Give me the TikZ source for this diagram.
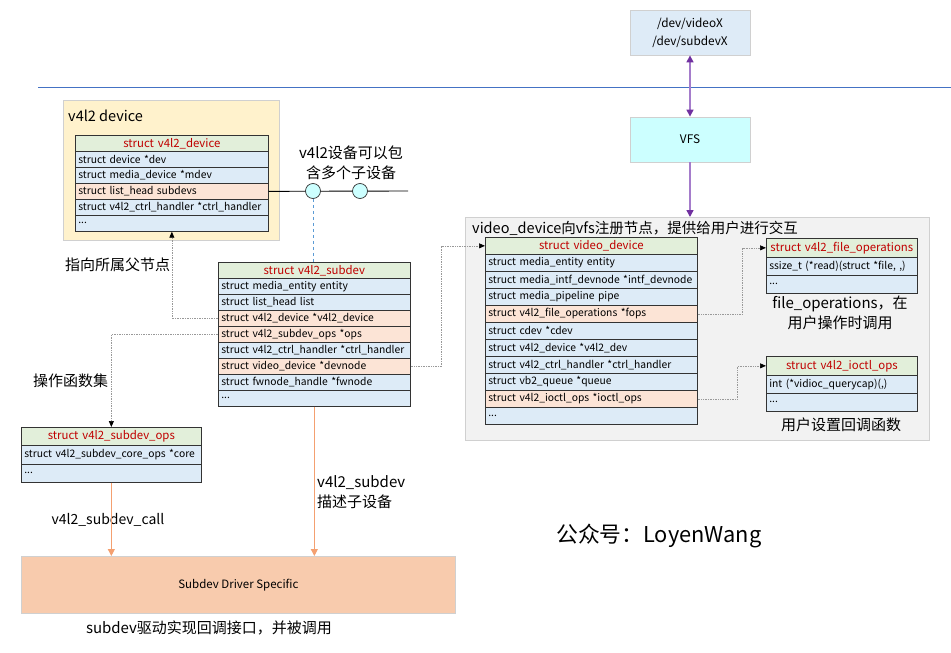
\documentclass[tikz,border=0pt]{standalone}
\usepackage{fontspec}
\setmainfont{Noto Sans CJK SC}
\usetikzlibrary{arrows.meta}
\definecolor{hdrc}{HTML}{E2EFDA}
\definecolor{rowbc}{HTML}{DDEBF7}
\definecolor{rowoc}{HTML}{FCE4D6}
\definecolor{redtc}{HTML}{C00000}
\definecolor{grpy}{HTML}{FFF2CC}
\definecolor{grpg}{HTML}{F2F2F2}
\definecolor{boxb}{HTML}{DEEBF7}
\definecolor{boxc}{HTML}{CCFFFF}
\definecolor{drvc}{HTML}{F8CBAD}
\definecolor{lineblue}{HTML}{4472C4}
\definecolor{dashblue}{HTML}{5B9BD5}
\definecolor{orangel}{HTML}{F4A070}
\definecolor{purl}{HTML}{A57CCB}
\definecolor{purd}{HTML}{7030A0}
\definecolor{softb}{HTML}{D0D0D0}
\newcommand\tabrow[7]{%
  \pgfmathsetmacro\rbtw{#4-6}%
  \node[#6, minimum width=#4pt, minimum height=#5pt, text width=\rbtw pt, anchor=north west] (#1) at (#2,#3) {#7};%
}
\begin{document}
\begin{tikzpicture}[x=1pt,y=-1pt,
  cellst/.style={draw=black!80, line width=0.7pt, inner xsep=3pt, inner ysep=0pt, font=\fontsize{10.3}{12}\selectfont},
  hdrst/.style={cellst, fill=hdrc, text=redtc, align=center, font=\fontsize{11.4}{13}\selectfont},
  bst/.style={cellst, fill=rowbc, align=left},
  ost/.style={cellst, fill=rowoc, align=left},
  grpst/.style={draw=softb, line width=0.8pt, anchor=north west, inner sep=0pt},
  plainbox/.style={draw=softb, line width=0.8pt, inner sep=0pt, align=center, font=\fontsize{11.8}{18}\selectfont},
  cnlabel/.style={inner sep=0pt, font=\fontsize{15}{20}\selectfont},
  grptitle/.style={inner sep=0pt, anchor=west, font=\fontsize{14.5}{18}\selectfont},
  dotarrow/.style={draw=black!40, densely dotted, line width=0.7pt, -{Triangle[length=6pt,width=5pt,color=black]}},
  orarrow/.style={draw=orangel, line width=1pt, -{Triangle[length=7pt,width=7pt]}},
  purarrow/.style={draw=purl, line width=1.5pt, {Triangle[length=7pt,width=7pt,color=purd]}-{Triangle[length=7pt,width=7pt,color=purd]}},
  purarrowone/.style={draw=purl, line width=1.5pt, -{Triangle[length=7pt,width=7pt,color=purd]}},
  knot/.style={circle, draw=black!80, fill=boxc, line width=0.7pt, minimum size=15pt, inner sep=0pt}
]
\useasboundingbox[fill=white] (0,0) rectangle (951,653);

% top line
\coordinate (hlA) at (38,87.5);
\coordinate (hlB) at (951,87.5);
\draw[lineblue, line width=1.1pt] (hlA) -- (hlB);

% /dev and VFS
\node[plainbox, fill=boxb, minimum width=120pt, minimum height=45pt] (devx) at (690,32.5) {/dev/videoX\\/dev/subdevX};
\node[plainbox, fill=boxc, minimum width=120pt, minimum height=45pt] (vfs) at (690,139.5) {VFS};

% groups
\node[grpst, fill=grpy, minimum width=216pt, minimum height=140pt] (gdev) at (63,100) {};
\node[grptitle] (gdevt) at (68,116) {v4l2 device};
\node[grpst, fill=grpg, minimum width=464pt, minimum height=223pt] (gvid) at (465,217) {};
\node[grptitle] (gvidt) at (472,228) {video\_device向vfs注册节点，提供给用户进行交互};

% struct v4l2_device
\tabrow{dh}{75}{135}{193}{16}{hdrst}{struct v4l2\_device}
\tabrow{d1}{75}{151}{193}{16}{bst}{struct device *dev}
\tabrow{d2}{75}{167}{193}{16}{bst}{struct media\_device *mdev}
\tabrow{d3}{75}{183}{193}{16}{ost}{struct list\_head subdevs}
\tabrow{d4}{75}{199}{193}{16}{bst}{struct v4l2\_ctrl\_handler *ctrl\_handler}
\tabrow{d5}{75}{215}{193}{16}{bst}{...}

% subdevs list line with knots
\coordinate (lend) at (408,191);
\draw[black, line width=0.9pt] (d3.east) -- (lend);
\node[knot] (k1) at (313,191) {};
\node[knot] (k2) at (360,191) {};
\node[cnlabel, align=center] (klab) at (351,163) {v4l2设备可以包\\含多个子设备};

% struct v4l2_subdev
\tabrow{sdh}{218}{262}{192}{16}{hdrst}{struct v4l2\_subdev}
\tabrow{sd1}{218}{278}{192}{16}{bst}{struct media\_entity entity}
\tabrow{sd2}{218}{294}{192}{16}{bst}{struct list\_head list}
\tabrow{sd3}{218}{310}{192}{16}{ost}{struct v4l2\_device *v4l2\_device}
\tabrow{sd4}{218}{326}{192}{16}{ost}{struct v4l2\_subdev\_ops *ops}
\tabrow{sd5}{218}{342}{192}{16}{bst}{struct v4l2\_ctrl\_handler *ctrl\_handler}
\tabrow{sd6}{218}{358}{192}{16}{ost}{struct video\_device *devnode}
\tabrow{sd7}{218}{374}{192}{16}{bst}{struct fwnode\_handle *fwnode}
\tabrow{sd8}{218}{390}{192}{16}{bst}{...}

\draw[dashblue, dashed, line width=0.8pt] (k1.south) -- (k1.south |- sdh.north);

% struct v4l2_subdev_ops
\tabrow{soh}{21}{427}{180}{18}{hdrst}{struct v4l2\_subdev\_ops}
\tabrow{so1}{21}{445}{180}{19}{bst}{struct v4l2\_subdev\_core\_ops *core}
\tabrow{so2}{21}{464}{180}{18}{bst}{...}

% struct video_device
\tabrow{vdh}{485}{237}{212}{17}{hdrst}{struct video\_device}
\tabrow{vd1}{485}{254}{212}{17}{bst}{struct media\_entity entity}
\tabrow{vd2}{485}{271}{212}{17}{bst}{struct media\_intf\_devnode *intf\_devnode}
\tabrow{vd3}{485}{288}{212}{17}{bst}{struct media\_pipeline pipe}
\tabrow{vd4}{485}{305}{212}{17}{ost}{struct v4l2\_file\_operations *fops}
\tabrow{vd5}{485}{322}{212}{17}{bst}{struct cdev *cdev}
\tabrow{vd6}{485}{339}{212}{17}{bst}{struct v4l2\_device *v4l2\_dev}
\tabrow{vd7}{485}{356}{212}{17}{bst}{struct v4l2\_ctrl\_handler *ctrl\_handler}
\tabrow{vd8}{485}{373}{212}{17}{bst}{struct vb2\_queue *queue}
\tabrow{vd9}{485}{390}{212}{17}{ost}{struct v4l2\_ioctl\_ops *ioctl\_ops}
\tabrow{vd10}{485}{407}{212}{17}{bst}{...}

% file operations
\tabrow{foh}{766}{238}{151}{19}{hdrst}{struct v4l2\_file\_operations}
\tabrow{fo1}{766}{257}{151}{18}{bst}{ssize\_t (*read)(struct *file, ,)}
\tabrow{fo2}{766}{275}{151}{18}{bst}{...}
\node[cnlabel, align=center] (folab) at (840,312.5) {file\_operations，在\\用户操作时调用};

% ioctl ops
\tabrow{ioh}{766}{356}{151}{19}{hdrst}{struct v4l2\_ioctl\_ops}
\tabrow{io1}{766}{375}{151}{18}{bst}{int (*vidioc\_querycap)(,)}
\tabrow{io2}{766}{393}{151}{18}{bst}{...}
\node[cnlabel] (iolab) at (841,425) {用户设置回调函数};

% driver box
\node[draw=softb, line width=0.8pt, fill=drvc, anchor=north west, minimum width=434pt, minimum height=57pt, inner sep=0pt] (drv) at (21,556) {};
\node[inner sep=0pt, font=\fontsize{11.5}{13}\selectfont] (drvt) at (drv.center) {Subdev Driver Specific};
\node[cnlabel] (drvlab) at (209,628) {subdev驱动实现回调接口，并被调用};

% labels
\node[cnlabel, anchor=west] (parlab) at (65,265) {指向所属父节点};
\node[cnlabel, anchor=west] (opslab) at (33,381) {操作函数集};
\node[cnlabel, font=\fontsize{14}{20}\selectfont] (calllab) at (108,520) {v4l2\_subdev\_call};
\node[cnlabel, anchor=west, align=left] (desclab) at (317,492) {v4l2\_subdev\\描述子设备};
\node[inner sep=0pt, anchor=west, font=\fontsize{21.8}{24}\selectfont] (wx) at (556,536) {公众号：LoyenWang};

% connectors
\draw[dotarrow] (sd3.west) -| (d5.south);
\draw[dotarrow] (sd4.west) -| (soh.north);
\draw[dotarrow] (sd6.east) -- ++(31,0) |- (vdh.west);
\draw[dotarrow] (vd4.east) -- ++(45,0) |- (foh.west);
\draw[dotarrow] (vd9.east) -- ++(40,0) |- (ioh.west);
\draw[orarrow] (so2.south) -- (so2.south |- drv.north);
\draw[orarrow] (sd8.south) -- (sd8.south |- drv.north);
\draw[purarrow] (devx.south) -- (vfs.north);
\draw[purarrowone] (vfs.south) -- (vfs.south |- gvid.north);
\end{tikzpicture}
\end{document}
